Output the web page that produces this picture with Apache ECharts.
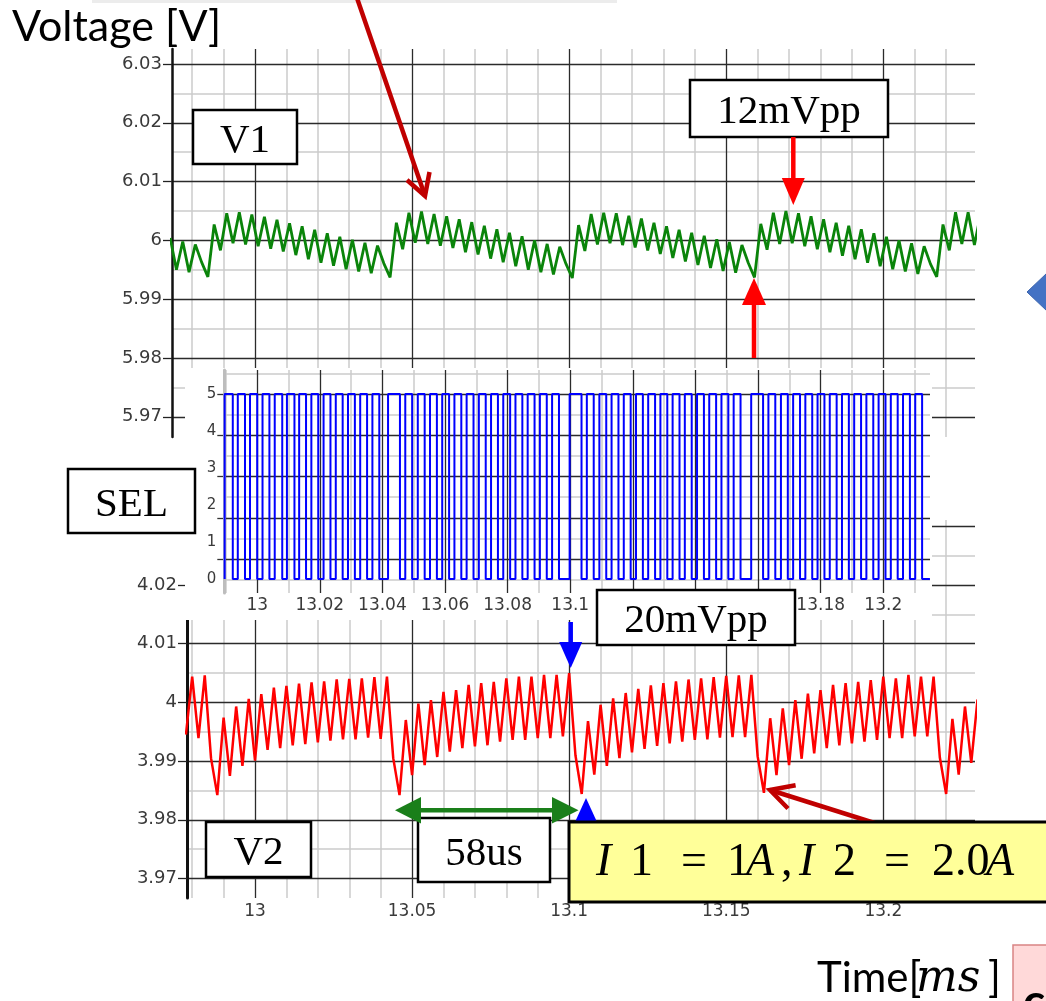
<!DOCTYPE html>
<html><head><meta charset="utf-8">
<script src="https://cdn.jsdelivr.net/npm/echarts/dist/echarts.min.js"></script>
<style>html,body{margin:0;padding:0;background:#fff}#c{width:1046px;height:1001px}</style>
</head><body><div id="c"></div><script>
// ---------------- data ----------------
// V1 trace: samples every 2 us starting at 12.973 ms (alternating ripple peaks / troughs)
const v1StartMs = 12.973, v1StepMs = 0.002;
const v1Values = [
  6.0004, 5.9950, 5.9998, 5.9946, 5.9993, 5.9963, 5.9938,
  6.0027, 5.9983, 6.0046, 5.9995, 6.0048, 5.9993, 6.0044, 5.9990, 6.0040, 5.9986, 6.0035, 5.9981, 6.0029, 5.9975, 6.0024,
  5.9968, 6.0018, 5.9962, 6.0012, 5.9957, 6.0006, 5.9951, 6.0001, 5.9947, 5.9996, 5.9944, 5.9991, 5.9961, 5.9937,
  6.0030, 5.9985, 6.0047, 5.9996, 6.0049, 5.9994, 6.0045, 5.9991, 6.0041, 5.9987, 6.0036, 5.9980, 6.0031, 5.9976, 6.0025,
  5.9969, 6.0019, 5.9963, 6.0013, 5.9956, 6.0007, 5.9950, 6.0000, 5.9946, 5.9994, 5.9942, 5.9989, 5.9960, 5.9936,
  6.0026, 5.9982, 6.0045, 5.9993, 6.0047, 5.9995, 6.0046, 5.9992, 6.0042, 5.9988, 6.0037, 5.9983, 6.0030, 5.9977, 6.0024,
  5.9970, 6.0018, 5.9964, 6.0013, 5.9958, 6.0008, 5.9953, 6.0002, 5.9948, 5.9997, 5.9945, 5.9992, 5.9962, 5.9937,
  6.0028, 5.9984, 6.0047, 5.9994, 6.0050, 5.9995, 6.0046, 5.9990, 6.0041, 5.9985, 6.0036, 5.9980, 6.0030, 5.9974, 6.0025,
  5.9968, 6.0019, 5.9962, 6.0012, 5.9956, 6.0006, 5.9951, 6.0000, 5.9947, 5.9995, 5.9943, 5.9990, 5.9960, 5.9938,
  6.0027, 5.9983, 6.0048, 5.9994, 6.0048, 5.9992, 6.0045
];
// V2 trace: samples every 2 us starting at 12.978 ms
const v2StartMs = 12.978, v2StepMs = 0.002;
const v2Values = [
  3.9945, 4.0044, 3.9939, 4.0046, 3.9905,
  3.9842, 3.9974, 3.9875, 3.9993, 3.9892, 4.0006, 3.9901, 4.0014, 3.9919, 4.0025, 3.9922, 4.0028, 3.9927, 4.0032, 3.9929,
  4.0034, 3.9932, 4.0036, 3.9935, 4.0039, 3.9937, 4.0040, 3.9937, 4.0041, 3.9940, 4.0043, 3.9938, 4.0044, 3.9905,
  3.9842, 3.9970, 3.9876, 3.9998, 3.9893, 4.0004, 3.9907, 4.0018, 3.9916, 4.0021, 3.9922, 4.0030, 3.9925, 4.0033, 3.9927,
  4.0035, 3.9933, 4.0041, 3.9936, 4.0044, 3.9936, 4.0044, 3.9939, 4.0047, 3.9939, 4.0047, 3.9942, 4.0050, 3.9910,
  3.9844, 3.9968, 3.9877, 3.9996, 3.9892, 4.0007, 3.9905, 4.0016, 3.9915, 4.0023, 3.9921, 4.0029, 3.9926, 4.0033, 3.9930,
  4.0036, 3.9933, 4.0039, 3.9936, 4.0041, 3.9937, 4.0043, 3.9940, 4.0045, 3.9941, 4.0046, 3.9941, 4.0047, 3.9908,
  3.9846, 3.9973, 3.9876, 3.9990, 3.9893, 4.0004, 3.9904, 4.0015, 3.9913, 4.0021, 3.9922, 4.0030, 3.9927, 4.0033, 3.9930,
  4.0035, 3.9933, 4.0038, 3.9936, 4.0044, 3.9939, 4.0041, 3.9939, 4.0047, 3.9942, 4.0044, 3.9942, 4.0044, 3.9906,
  3.9844, 3.9972, 3.9877, 3.9993, 3.9897, 4.0005
];
// SEL square wave: rising / falling edge times in microseconds after 13.000 ms
const selRiseUs = [
  -10.4, -6.2, -2.3, 1.7, 5.6, 9.5, 13.4, 17.3, 21.2, 25.1, 29.0, 32.9, 36.8,
  41.8,
  47.3, 51.3, 55.2, 59.1, 63.0, 66.9, 70.8, 74.7, 78.6, 82.5, 86.4, 90.3, 94.2,
  99.8,
  105.3, 109.3, 113.2, 117.1, 121.0, 124.9, 128.8, 132.7, 136.6, 140.5, 144.4, 148.3, 152.2,
  157.8,
  163.3, 167.3, 171.2, 175.1, 179.0, 182.9, 186.8, 190.7, 194.6, 198.5, 202.4, 206.3, 210.2
];
const selFallUs = [
  -7.8, -3.9, 0.0, 3.9, 8.0, 11.9, 15.6, 19.5, 23.4, 27.3, 31.2, 35.1, 39.0,
  45.6,
  49.5, 53.5, 57.4, 61.3, 65.2, 69.1, 73.0, 76.9, 80.8, 84.7, 88.6, 92.5, 96.4,
  103.6,
  107.5, 111.5, 115.4, 119.3, 123.2, 127.1, 131.0, 134.9, 138.8, 142.7, 146.6, 150.5, 154.4,
  161.6,
  165.5, 169.5, 173.4, 177.3, 181.2, 185.1, 189.0, 192.9, 196.8, 200.7, 204.6, 208.5, 212.4
];
const selHigh = 5, selLow = 0, selEndUs = 214.9;

// tick values / labels
const v1YTicks = [5.97, 5.98, 5.99, 6, 6.01, 6.02, 6.03];
const v1YMinor = [5.975, 5.985, 5.995, 6.005, 6.015, 6.025];
const timeMajor = [13, 13.05, 13.1, 13.15, 13.2];
const timeMinor = [12.98, 12.99, 13.01, 13.02, 13.03, 13.04, 13.06, 13.07, 13.08, 13.09, 13.11, 13.12, 13.13, 13.14, 13.16, 13.17, 13.18, 13.19, 13.21, 13.22];
const v2YTicks = [3.97, 3.98, 3.99, 4, 4.01, 4.02, 4.03];
const v2YMinor = [3.975, 3.985, 3.995, 4.005, 4.015, 4.025];
const selYLabels = [0, 1, 2, 3, 4, 5];
const selGridMajor = [1, 2, 3, 4, 5];
const selGridMinor = [0.5, 1.5, 2.5, 3.5, 4.5, 5.5];
const selXMajor = [13, 13.02, 13.04, 13.06, 13.08, 13.1, 13.12, 13.14, 13.16, 13.18, 13.2];
const selXMinor = [12.99, 13.01, 13.03, 13.05, 13.07, 13.09, 13.11, 13.13, 13.15, 13.17, 13.19, 13.21];

// ---------------- build series data ----------------
const v1Data = v1Values.map((v, i) => [v1StartMs + i * v1StepMs, v]);
const v2Data = v2Values.map((v, i) => [v2StartMs + i * v2StepMs, v]);
const selData = [];
selRiseUs.forEach((r, i) => {
  const tr = 13 + r / 1000, tf = 13 + selFallUs[i] / 1000;
  selData.push([tr, selLow], [tr, selHigh], [tf, selHigh], [tf, selLow]);
});
selData.push([13 + selEndUs / 1000, selLow]);

// ---------------- styling ----------------
const BLACK = '#2b2b2b', GREY = '#cbcbcb';
const AX_FONT = "'DejaVu Sans', sans-serif";
const SERIF = "'Liberation Serif', 'Times New Roman', serif";
const SANS = "Lato, 'Open Sans', sans-serif";

function gridAxis(dim, gridIndex, min, max, values, color, width, z, extra) {
  const a = {
    gridIndex, type: 'value', min, max, z,
    position: dim === 'x' ? 'bottom' : 'left',
    axisLine: { show: false },
    axisTick: { show: false, customValues: values },
    axisLabel: { show: false, customValues: values },
    splitLine: { show: true, lineStyle: { color, width } }
  };
  return Object.assign(a, extra || {});
}

const chart = echarts.init(document.getElementById('c'), null, { renderer: 'canvas' });

const V1X = [12.97358, 13.22919], V2X = [12.97835, 13.22919], SELX = [12.98949, 13.21492];
const V1Y = [5.96656, 6.03255], V2Y = [3.96668, 4.03107];
const SELY = [-0.3784, 5.6486], SELG = [0.1816, 5.581];

const xAxis = [
  gridAxis('x', 0, V1X[0], V1X[1], timeMajor, BLACK, 1.3, 1),
  gridAxis('x', 0, V1X[0], V1X[1], timeMinor, GREY, 1.5, 0),
  gridAxis('x', 1, V2X[0], V2X[1], timeMajor, BLACK, 1.3, 1, {
    axisLabel: { show: true, customValues: timeMajor, color: '#3a3a3a', fontFamily: AX_FONT, fontSize: 17, margin: 5 }
  }),
  gridAxis('x', 1, V2X[0], V2X[1], timeMinor, GREY, 1.5, 0),
  gridAxis('x', 2, SELX[0], SELX[1], selXMajor, BLACK, 1.3, 3, {
    zlevel: 1,
    axisLabel: { show: true, customValues: selXMajor, color: '#3a3a3a', fontFamily: AX_FONT, fontSize: 17, margin: 4 }
  }),
  gridAxis('x', 2, SELX[0], SELX[1], selXMinor, GREY, 1.5, 2, { zlevel: 1 })
];

const yAxis = [
  gridAxis('y', 0, V1Y[0], V1Y[1], v1YTicks, BLACK, 1.3, 1, {
    axisLine: { show: true, lineStyle: { color: '#111', width: 2.5 } },
    axisTick: { show: true, customValues: v1YTicks, length: 9, lineStyle: { color: '#222', width: 1.3 } },
    axisLabel: { show: true, customValues: v1YTicks, color: '#3a3a3a', fontFamily: AX_FONT, fontSize: 18, margin: 10 }
  }),
  gridAxis('y', 0, V1Y[0], V1Y[1], v1YMinor, GREY, 1.5, 0),
  gridAxis('y', 1, V2Y[0], V2Y[1], v2YTicks, BLACK, 1.3, 1, {
    axisLine: { show: true, lineStyle: { color: '#111', width: 3 } },
    axisTick: { show: true, customValues: v2YTicks, length: 9, lineStyle: { color: '#222', width: 1.3 } },
    axisLabel: { show: true, customValues: v2YTicks, color: '#3a3a3a', fontFamily: AX_FONT, fontSize: 18, margin: 10 }
  }),
  gridAxis('y', 1, V2Y[0], V2Y[1], v2YMinor, GREY, 1.5, 0),
  // SEL label axis (carries the square wave)
  {
    gridIndex: 2, type: 'value', min: SELY[0], max: SELY[1], position: 'left', zlevel: 1, z: 4,
    axisLine: { show: true, lineStyle: { color: '#bdbdbd', width: 3 } },
    axisTick: { show: false, customValues: selYLabels },
    axisLabel: { show: true, customValues: selYLabels, color: '#3a3a3a', fontFamily: AX_FONT, fontSize: 15, margin: 8 },
    splitLine: { show: false }
  },
  gridAxis('y', 2, SELG[0], SELG[1], selGridMajor, BLACK, 1.3, 3, {
    zlevel: 1,
    axisTick: { show: true, customValues: selGridMajor, length: 7, lineStyle: { color: '#333', width: 1.3 } }
  }),
  gridAxis('y', 2, SELG[0], SELG[1], selGridMinor, GREY, 1.5, 2, { zlevel: 1 })
];

// ---------------- annotations ----------------
function box(x, y, w, h, label, dy) {
  return [
    { type: 'rect', zlevel: 2, z: 10, shape: { x, y, width: w, height: h }, style: { fill: '#fff', stroke: '#000', lineWidth: 2.5 } },
    { type: 'text', zlevel: 2, z: 11, x: x + w / 2, y: y + h / 2 + (dy || 4),
      style: { text: label, fill: '#000', font: '41px ' + SERIF, textAlign: 'center', textVerticalAlign: 'middle' } }
  ];
}
function vArrow(x, yTail, yBase, yTip, color, shaftW, headW) {
  const top = Math.min(yTail, yBase), h = Math.abs(yBase - yTail);
  return [
    { type: 'rect', zlevel: 2, z: 12, shape: { x: x - shaftW / 2, y: top, width: shaftW, height: h }, style: { fill: color } },
    { type: 'polygon', zlevel: 2, z: 12, shape: { points: [[x - headW / 2, yBase], [x + headW / 2, yBase], [x, yTip]] }, style: { fill: color } }
  ];
}
function chevronArrow(x1, y1, tx, ty, a1, a2, color, w) {
  return [
    { type: 'line', zlevel: 2, z: 13, shape: { x1, y1, x2: tx, y2: ty }, style: { stroke: color, lineWidth: w } },
    { type: 'polyline', zlevel: 2, z: 13, shape: { points: [a1, [tx, ty], a2] }, style: { stroke: color, lineWidth: w, fill: null, lineJoin: 'miter' } }
  ];
}
function txt(x, y, text, font, extra) {
  return { type: 'text', zlevel: 2, z: 15, x, y,
    style: Object.assign({ text, fill: '#000', font, textAlign: 'left', textVerticalAlign: 'middle' }, extra || {}) };
}

const YI = "italic 46px " + SERIF, YR = "46px " + SERIF;
const graphic = [
  { type: 'rect', zlevel: 0, z: 0, shape: { x: 92, y: 0, width: 525, height: 3 }, style: { fill: '#ececec' } },
  // white panel behind SEL plot
  { type: 'rect', zlevel: 1, z: 0, silent: true, shape: { x: 185, y: 368, width: 747, height: 252 }, style: { fill: '#fff' } },
  txt(12, 27, 'Voltage [V]', '43px ' + SANS),
  ...chevronArrow(357, -2, 425, 196, [407, 180], [429.5, 172], '#C00000', 4.5),
  ...box(193, 110, 104, 54, 'V1'),
  ...box(690, 80, 198, 57, '12mVpp'),
  ...vArrow(793.3, 137, 178, 205, '#FF0000', 4.5, 23),
  ...vArrow(754, 358, 305, 278, '#FF0000', 4.5, 24),
  ...box(68, 469, 127, 64, 'SEL'),
  ...box(597, 590, 198, 55, '20mVpp'),
  ...vArrow(570.7, 622, 642, 668, '#0000FF', 4.5, 23),
  { type: 'polygon', zlevel: 2, z: 12, shape: { points: [[586, 798], [575, 822], [597, 822]] }, style: { fill: '#0000FF' } },
  // green double arrow
  { type: 'rect', zlevel: 2, z: 12, shape: { x: 415, y: 808, width: 142, height: 4.6 }, style: { fill: '#1a7f1a' } },
  { type: 'polygon', zlevel: 2, z: 12, shape: { points: [[395, 810.3], [421, 797], [421, 823.5]] }, style: { fill: '#1a7f1a' } },
  { type: 'polygon', zlevel: 2, z: 12, shape: { points: [[578.5, 810.3], [552, 797], [552, 823.5]] }, style: { fill: '#1a7f1a' } },
  ...box(418, 818, 132, 64, '58us'),
  ...box(206, 822, 105, 55, 'V2'),
  // yellow condition box
  { type: 'rect', zlevel: 2, z: 14, shape: { x: 569, y: 822, width: 490, height: 80 }, style: { fill: '#FFFF99', stroke: '#000', lineWidth: 3 } },
  txt(596, 863, 'I', YI), txt(630, 863, '1', YR), txt(681, 863, '=', YR), txt(727, 863, '1', YR),
  txt(746, 863, 'A', YI), txt(781, 863, ',', YR), txt(799, 863, 'I', YI), txt(833, 863, '2', YR),
  txt(884, 863, '=', YR), txt(932, 863, '2.0', YR), txt(986, 863, 'A', YI),
  ...chevronArrow(1052, 879, 770, 790, [788, 808.5], [795.6, 785.3], '#C00000', 4.5),
  // blue block arrow tip at right edge
  { type: 'polygon', zlevel: 2, z: 12, shape: { points: [[1027, 292], [1047, 273], [1047, 311]] }, style: { fill: '#4472C4', stroke: '#3A63AD', lineWidth: 1 } },
  // axis title bottom
  txt(817, 978, 'Time[', '42px ' + SANS),
  txt(916, 980, 'ms', "italic 44px 'DejaVu Serif', serif"),
  txt(988, 978, ']', '42px ' + SANS),
  { type: 'rect', zlevel: 2, z: 12, shape: { x: 1013, y: 945, width: 40, height: 60 }, style: { fill: '#FFD9D9', stroke: '#D98484', lineWidth: 1.5 } },
  txt(1023, 1002, 'c', "bold 46px " + SANS)
];

chart.setOption({
  animation: false,
  backgroundColor: '#fff',
  grid: [
    { left: 172, top: 49, width: 803, height: 388 },
    { left: 187, top: 520, width: 788, height: 378 },
    { left: 224.3, top: 370, width: 705.7, height: 223, zlevel: 1 }
  ],
  xAxis, yAxis,
  series: [
    { type: 'line', name: 'V1', xAxisIndex: 0, yAxisIndex: 0, data: v1Data, showSymbol: false, symbol: 'none', z: 5,
      lineStyle: { color: '#0a840a', width: 2.8 }, clip: true },
    { type: 'line', name: 'V2', xAxisIndex: 2, yAxisIndex: 2, data: v2Data, showSymbol: false, symbol: 'none', z: 5,
      lineStyle: { color: '#ff0000', width: 2.5 }, clip: true },
    { type: 'line', name: 'SEL', xAxisIndex: 4, yAxisIndex: 4, data: selData, showSymbol: false, symbol: 'none', zlevel: 1, z: 6,
      lineStyle: { color: '#0000ff', width: 2 }, clip: true }
  ],
  graphic
});
</script></body></html>
